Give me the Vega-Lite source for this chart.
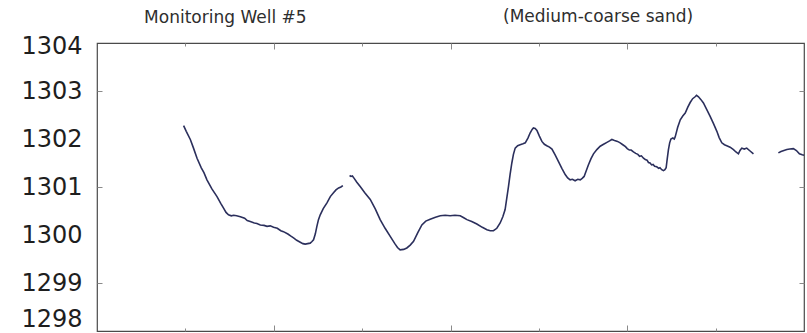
{
  "$schema": "https://vega.github.io/schema/vega-lite/v6.json",
  "width": 707,
  "height": 288,
  "autosize": {"type": "none"},
  "padding": {"left": 97, "top": 43, "right": 3, "bottom": 2},
  "background": "white",
  "config": {
    "font": "DejaVu Sans",
    "view": {"stroke": "#4a4a4a", "strokeWidth": 1.2},
    "axis": {"grid": false}
  },
  "layer": [
    {
      "data": {
        "values": [
          {"t": 0.490, "v": 1302.28, "s": "a"}, {"t": 0.505, "v": 1302.16, "s": "a"}, {"t": 0.528, "v": 1301.99, "s": "a"},
          {"t": 0.545, "v": 1301.82, "s": "a"}, {"t": 0.566, "v": 1301.60, "s": "a"}, {"t": 0.590, "v": 1301.40, "s": "a"},
          {"t": 0.605, "v": 1301.30, "s": "a"}, {"t": 0.622, "v": 1301.15, "s": "a"}, {"t": 0.650, "v": 1300.96, "s": "a"},
          {"t": 0.679, "v": 1300.80, "s": "a"}, {"t": 0.700, "v": 1300.66, "s": "a"}, {"t": 0.716, "v": 1300.56, "s": "a"},
          {"t": 0.730, "v": 1300.47, "s": "a"}, {"t": 0.744, "v": 1300.42, "s": "a"}, {"t": 0.760, "v": 1300.40, "s": "a"},
          {"t": 0.773, "v": 1300.41, "s": "a"}, {"t": 0.790, "v": 1300.40, "s": "a"}, {"t": 0.811, "v": 1300.38, "s": "a"},
          {"t": 0.835, "v": 1300.35, "s": "a"}, {"t": 0.850, "v": 1300.30, "s": "a"}, {"t": 0.867, "v": 1300.28, "s": "a"},
          {"t": 0.890, "v": 1300.25, "s": "a"}, {"t": 0.905, "v": 1300.24, "s": "a"}, {"t": 0.924, "v": 1300.21, "s": "a"},
          {"t": 0.945, "v": 1300.20, "s": "a"}, {"t": 0.962, "v": 1300.18, "s": "a"}, {"t": 0.980, "v": 1300.19, "s": "a"},
          {"t": 0.999, "v": 1300.16, "s": "a"}, {"t": 1.020, "v": 1300.14, "s": "a"}, {"t": 1.040, "v": 1300.09, "s": "a"},
          {"t": 1.055, "v": 1300.07, "s": "a"}, {"t": 1.080, "v": 1300.02, "s": "a"}, {"t": 1.095, "v": 1299.98, "s": "a"},
          {"t": 1.112, "v": 1299.94, "s": "a"}, {"t": 1.130, "v": 1299.89, "s": "a"}, {"t": 1.150, "v": 1299.85, "s": "a"},
          {"t": 1.165, "v": 1299.82, "s": "a"}, {"t": 1.178, "v": 1299.81, "s": "a"}, {"t": 1.192, "v": 1299.82, "s": "a"},
          {"t": 1.206, "v": 1299.83, "s": "a"}, {"t": 1.215, "v": 1299.86, "s": "a"}, {"t": 1.225, "v": 1299.90, "s": "a"},
          {"t": 1.235, "v": 1300.02, "s": "a"}, {"t": 1.244, "v": 1300.18, "s": "a"}, {"t": 1.253, "v": 1300.32, "s": "a"},
          {"t": 1.263, "v": 1300.42, "s": "a"}, {"t": 1.280, "v": 1300.55, "s": "a"}, {"t": 1.301, "v": 1300.67, "s": "a"},
          {"t": 1.320, "v": 1300.80, "s": "a"}, {"t": 1.338, "v": 1300.88, "s": "a"}, {"t": 1.352, "v": 1300.94, "s": "a"},
          {"t": 1.367, "v": 1300.98, "s": "a"}, {"t": 1.380, "v": 1301.00, "s": "a"}, {"t": 1.391, "v": 1301.03, "s": "a"},

          {"t": 1.429, "v": 1301.24, "s": "b"}, {"t": 1.437, "v": 1301.22, "s": "b"}, {"t": 1.445, "v": 1301.23, "s": "b"},
          {"t": 1.455, "v": 1301.18, "s": "b"}, {"t": 1.470, "v": 1301.10, "s": "b"}, {"t": 1.489, "v": 1301.01, "s": "b"},
          {"t": 1.515, "v": 1300.88, "s": "b"}, {"t": 1.546, "v": 1300.74, "s": "b"}, {"t": 1.575, "v": 1300.54, "s": "b"},
          {"t": 1.602, "v": 1300.32, "s": "b"}, {"t": 1.630, "v": 1300.14, "s": "b"}, {"t": 1.659, "v": 1299.97, "s": "b"},
          {"t": 1.685, "v": 1299.82, "s": "b"}, {"t": 1.700, "v": 1299.74, "s": "b"}, {"t": 1.715, "v": 1299.69, "s": "b"},
          {"t": 1.735, "v": 1299.70, "s": "b"}, {"t": 1.753, "v": 1299.73, "s": "b"}, {"t": 1.772, "v": 1299.79, "s": "b"},
          {"t": 1.791, "v": 1299.87, "s": "b"}, {"t": 1.815, "v": 1300.05, "s": "b"}, {"t": 1.838, "v": 1300.21, "s": "b"},
          {"t": 1.860, "v": 1300.29, "s": "b"}, {"t": 1.885, "v": 1300.33, "s": "b"}, {"t": 1.915, "v": 1300.37, "s": "b"},
          {"t": 1.942, "v": 1300.40, "s": "b"}, {"t": 1.970, "v": 1300.41, "s": "b"}, {"t": 1.998, "v": 1300.40, "s": "b"},
          {"t": 2.025, "v": 1300.41, "s": "b"}, {"t": 2.055, "v": 1300.40, "s": "b"}, {"t": 2.075, "v": 1300.36, "s": "b"},
          {"t": 2.093, "v": 1300.32, "s": "b"}, {"t": 2.120, "v": 1300.28, "s": "b"}, {"t": 2.149, "v": 1300.23, "s": "b"},
          {"t": 2.180, "v": 1300.16, "s": "b"}, {"t": 2.206, "v": 1300.11, "s": "b"}, {"t": 2.225, "v": 1300.09, "s": "b"},
          {"t": 2.243, "v": 1300.09, "s": "b"}, {"t": 2.262, "v": 1300.14, "s": "b"}, {"t": 2.281, "v": 1300.25, "s": "b"},
          {"t": 2.296, "v": 1300.38, "s": "b"}, {"t": 2.309, "v": 1300.53, "s": "b"}, {"t": 2.318, "v": 1300.76, "s": "b"},
          {"t": 2.328, "v": 1301.01, "s": "b"}, {"t": 2.337, "v": 1301.26, "s": "b"}, {"t": 2.347, "v": 1301.50, "s": "b"},
          {"t": 2.356, "v": 1301.68, "s": "b"}, {"t": 2.366, "v": 1301.81, "s": "b"}, {"t": 2.380, "v": 1301.86, "s": "b"},
          {"t": 2.394, "v": 1301.88, "s": "b"}, {"t": 2.410, "v": 1301.90, "s": "b"}, {"t": 2.423, "v": 1301.92, "s": "b"},
          {"t": 2.438, "v": 1302.02, "s": "b"}, {"t": 2.451, "v": 1302.13, "s": "b"}, {"t": 2.462, "v": 1302.20, "s": "b"},
          {"t": 2.469, "v": 1302.23, "s": "b"}, {"t": 2.479, "v": 1302.22, "s": "b"}, {"t": 2.489, "v": 1302.18, "s": "b"},
          {"t": 2.503, "v": 1302.06, "s": "b"}, {"t": 2.517, "v": 1301.95, "s": "b"}, {"t": 2.531, "v": 1301.89, "s": "b"},
          {"t": 2.545, "v": 1301.86, "s": "b"}, {"t": 2.560, "v": 1301.83, "s": "b"}, {"t": 2.574, "v": 1301.79, "s": "b"},
          {"t": 2.592, "v": 1301.67, "s": "b"}, {"t": 2.611, "v": 1301.53, "s": "b"}, {"t": 2.630, "v": 1301.39, "s": "b"},
          {"t": 2.649, "v": 1301.26, "s": "b"}, {"t": 2.663, "v": 1301.19, "s": "b"}, {"t": 2.677, "v": 1301.15, "s": "b"},
          {"t": 2.690, "v": 1301.16, "s": "b"}, {"t": 2.705, "v": 1301.13, "s": "b"}, {"t": 2.720, "v": 1301.16, "s": "b"},
          {"t": 2.734, "v": 1301.15, "s": "b"}, {"t": 2.745, "v": 1301.18, "s": "b"}, {"t": 2.756, "v": 1301.22, "s": "b"},
          {"t": 2.768, "v": 1301.34, "s": "b"}, {"t": 2.780, "v": 1301.46, "s": "b"}, {"t": 2.795, "v": 1301.59, "s": "b"},
          {"t": 2.809, "v": 1301.69, "s": "b"}, {"t": 2.828, "v": 1301.78, "s": "b"}, {"t": 2.847, "v": 1301.85, "s": "b"},
          {"t": 2.866, "v": 1301.89, "s": "b"}, {"t": 2.885, "v": 1301.93, "s": "b"}, {"t": 2.900, "v": 1301.96, "s": "b"},
          {"t": 2.913, "v": 1301.99, "s": "b"}, {"t": 2.928, "v": 1301.97, "s": "b"}, {"t": 2.945, "v": 1301.95, "s": "b"},
          {"t": 2.960, "v": 1301.92, "s": "b"}, {"t": 2.975, "v": 1301.88, "s": "b"}, {"t": 2.990, "v": 1301.84, "s": "b"},
          {"t": 3.000, "v": 1301.80, "s": "b"}, {"t": 3.012, "v": 1301.77, "s": "b"}, {"t": 3.022, "v": 1301.77, "s": "b"},
          {"t": 3.035, "v": 1301.73, "s": "b"}, {"t": 3.048, "v": 1301.70, "s": "b"}, {"t": 3.060, "v": 1301.68, "s": "b"},
          {"t": 3.070, "v": 1301.64, "s": "b"}, {"t": 3.080, "v": 1301.65, "s": "b"}, {"t": 3.092, "v": 1301.60, "s": "b"},
          {"t": 3.102, "v": 1301.57, "s": "b"}, {"t": 3.112, "v": 1301.56, "s": "b"}, {"t": 3.120, "v": 1301.51, "s": "b"},
          {"t": 3.129, "v": 1301.50, "s": "b"}, {"t": 3.138, "v": 1301.46, "s": "b"}, {"t": 3.146, "v": 1301.47, "s": "b"},
          {"t": 3.155, "v": 1301.43, "s": "b"}, {"t": 3.167, "v": 1301.42, "s": "b"}, {"t": 3.178, "v": 1301.39, "s": "b"},
          {"t": 3.185, "v": 1301.40, "s": "b"}, {"t": 3.195, "v": 1301.36, "s": "b"}, {"t": 3.205, "v": 1301.34, "s": "b"},
          {"t": 3.213, "v": 1301.36, "s": "b"}, {"t": 3.220, "v": 1301.40, "s": "b"}, {"t": 3.226, "v": 1301.58, "s": "b"},
          {"t": 3.233, "v": 1301.78, "s": "b"}, {"t": 3.240, "v": 1301.92, "s": "b"}, {"t": 3.247, "v": 1302.00, "s": "b"},
          {"t": 3.258, "v": 1302.02, "s": "b"}, {"t": 3.266, "v": 1302.00, "s": "b"}, {"t": 3.271, "v": 1302.04, "s": "b"},
          {"t": 3.285, "v": 1302.24, "s": "b"}, {"t": 3.300, "v": 1302.40, "s": "b"}, {"t": 3.314, "v": 1302.48, "s": "b"},
          {"t": 3.328, "v": 1302.54, "s": "b"}, {"t": 3.342, "v": 1302.66, "s": "b"}, {"t": 3.356, "v": 1302.76, "s": "b"},
          {"t": 3.370, "v": 1302.84, "s": "b"}, {"t": 3.384, "v": 1302.88, "s": "b"}, {"t": 3.392, "v": 1302.91, "s": "b"},
          {"t": 3.403, "v": 1302.88, "s": "b"}, {"t": 3.417, "v": 1302.82, "s": "b"}, {"t": 3.431, "v": 1302.75, "s": "b"},
          {"t": 3.450, "v": 1302.61, "s": "b"}, {"t": 3.469, "v": 1302.47, "s": "b"}, {"t": 3.488, "v": 1302.32, "s": "b"},
          {"t": 3.507, "v": 1302.16, "s": "b"}, {"t": 3.520, "v": 1302.03, "s": "b"}, {"t": 3.535, "v": 1301.92, "s": "b"},
          {"t": 3.550, "v": 1301.88, "s": "b"}, {"t": 3.563, "v": 1301.86, "s": "b"}, {"t": 3.582, "v": 1301.83, "s": "b"},
          {"t": 3.601, "v": 1301.78, "s": "b"}, {"t": 3.615, "v": 1301.73, "s": "b"}, {"t": 3.629, "v": 1301.69, "s": "b"},
          {"t": 3.638, "v": 1301.76, "s": "b"}, {"t": 3.648, "v": 1301.81, "s": "b"}, {"t": 3.662, "v": 1301.79, "s": "b"},
          {"t": 3.676, "v": 1301.81, "s": "b"}, {"t": 3.695, "v": 1301.75, "s": "b"}, {"t": 3.714, "v": 1301.69, "s": "b"},

          {"t": 3.855, "v": 1301.71, "s": "c"}, {"t": 3.870, "v": 1301.74, "s": "c"}, {"t": 3.903, "v": 1301.78, "s": "c"},
          {"t": 3.920, "v": 1301.79, "s": "c"}, {"t": 3.940, "v": 1301.80, "s": "c"}, {"t": 3.957, "v": 1301.76, "s": "c"},
          {"t": 3.974, "v": 1301.69, "s": "c"}, {"t": 3.990, "v": 1301.67, "s": "c"}, {"t": 4.000, "v": 1301.66, "s": "c"}
        ]
      },
      "mark": {"type": "line", "color": "#2b2f5c", "strokeWidth": 1.6},
      "encoding": {
        "x": {
          "field": "t",
          "type": "quantitative",
          "scale": {"domain": [0, 4], "nice": false, "zero": false},
          "axis": {
            "orient": "bottom",
            "title": null,
            "labels": false,
            "domain": false,
            "grid": false,
            "values": [0.5, 1, 1.5, 2, 2.5, 3, 3.5],
            "tickColor": "#8a8a8a",
            "tickSize": {"condition": {"test": "datum.value % 1 === 0", "value": -6}, "value": -3}
          }
        },
        "y": {
          "field": "v",
          "type": "quantitative",
          "scale": {"domain": [1298, 1304], "nice": false, "zero": false},
          "axis": {
            "orient": "left",
            "title": null,
            "domain": false,
            "grid": false,
            "values": [1298, 1299, 1300, 1301, 1302, 1303, 1304],
            "format": "d",
            "labelFont": "DejaVu Sans",
            "labelFontSize": 24,
            "labelColor": "#1e1e1e",
            "labelPadding": 20,
            "labelBaseline": {"condition": {"test": "datum.value === 1298", "value": "alphabetic"}, "value": "middle"},
            "labelOffset": {"condition": [{"test": "datum.value === 1304", "value": 3}, {"test": "datum.value === 1298", "value": -5}], "value": 0},
            "tickSize": -5,
            "tickColor": "#8a8a8a",
            "tickOpacity": {"condition": {"test": "datum.value % 2 === 1", "value": 1}, "value": 0}
          }
        },
        "detail": {"field": "s"}
      }
    },
    {
      "data": {
        "values": [
          {"t": 0.726, "v": 1304.41, "label": "Monitoring Well #5"},
          {"t": 2.835, "v": 1304.43, "label": "(Medium-coarse sand)"}
        ]
      },
      "mark": {"type": "text", "font": "DejaVu Sans", "fontSize": 17, "color": "#2e2e2e", "baseline": "alphabetic", "align": "center"},
      "encoding": {
        "x": {
          "field": "t",
          "type": "quantitative",
          "axis": {
            "orient": "top",
            "title": null,
            "labels": false,
            "domain": false,
            "grid": false,
            "values": [0.5, 1, 1.5, 2, 2.5, 3, 3.5],
            "tickColor": "#8a8a8a",
            "tickSize": {"condition": {"test": "datum.value % 1 === 0", "value": -6}, "value": -3}
          }
        },
        "y": {
          "field": "v",
          "type": "quantitative",
          "axis": {
            "orient": "right",
            "title": null,
            "labels": false,
            "domain": false,
            "grid": false,
            "values": [1299, 1301, 1303],
            "tickColor": "#8a8a8a",
            "tickSize": -5
          }
        },
        "text": {"field": "label"}
      }
    }
  ],
  "resolve": {"axis": {"x": "independent", "y": "independent"}}
}
